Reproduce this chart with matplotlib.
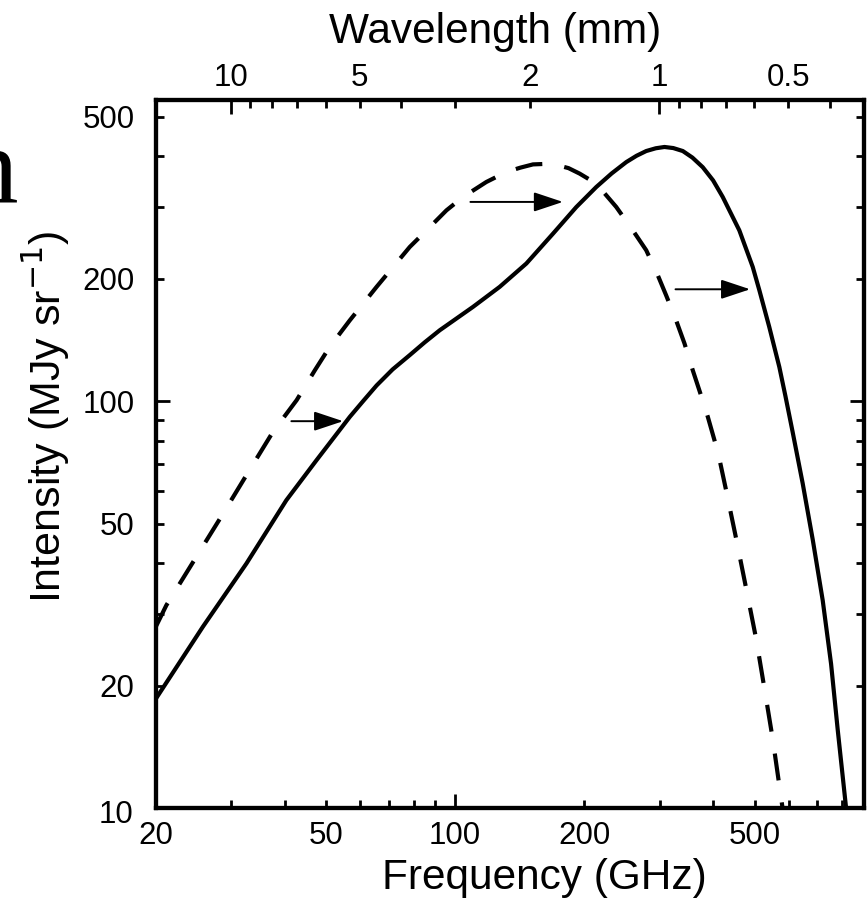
import numpy as np
import matplotlib
matplotlib.use("Agg")
import matplotlib.pyplot as plt
from matplotlib.ticker import FixedLocator, FuncFormatter
import matplotlib.transforms as mtransforms

plt.rcParams['font.family'] = ['Liberation Sans', 'DejaVu Sans']
plt.rcParams['lines.scale_dashes'] = False

# ---- data ----
solid_freq = [20, 25.8, 32.6, 40.4, 47.5, 56.8, 61, 65.6, 71.5, 78.4, 85, 92.1,
              110.1, 127.1, 146.7, 169.2, 191.8, 213.5, 232, 250.9, 265, 279.3,
              294, 308.1, 323, 340, 358, 378.4, 400, 421.3, 460.6, 495, 513, 541,
              571, 590, 613.4, 647.4, 683.5, 720.9, 754.1, 781.3, 817.4]
solid_int = [18.5, 27.9, 39.9, 57.1, 71.6, 91.5, 100, 109.3, 119.7, 129.8, 139.6, 149.4,
             170.5, 191, 218, 258, 300, 336, 363, 387, 401, 412,
             418.5, 421.6, 419, 412, 397, 376, 349, 317.7, 263, 213.8, 187.3, 152.2,
             121.4, 103, 84, 62.8, 45.6, 32.4, 22.6, 15.6, 10.0]

dash_freq = [20, 21.2, 24.5, 28.3, 32.6, 37.6, 42.7, 47.1, 51.0, 56.8, 65.6,
             71.7, 78.4, 85.8, 95.5, 104.4, 118.3, 131.7, 142, 152, 162, 172.2,
             184, 195.3, 213.5, 237.7, 259.9, 279.3, 297.2, 310.9, 328, 343.1,
             358.6, 375.3, 388.9, 403, 414, 429, 452.7, 477.7, 504, 527, 551, 581]
dash_int = [27.8, 31.5, 40.3, 51.5, 65.8, 84.1, 100.6, 119.2, 136, 158, 191,
            213.8, 239.4, 263, 294.6, 317.7, 345.8, 365.9, 375, 382, 383, 381,
            374, 362.6, 342.7, 300.3, 263, 235, 204, 182, 158, 138.6,
            119.2, 103, 91.5, 80.2, 72, 60.4, 46.0, 34.7, 26.1, 19.7, 14.8, 10.0]

# arrows: (start freq, end freq, intensity)
arrow_start = [41.5, 108.6, 326.9]
arrow_end = [54.8, 178.5, 488]
arrow_int = [89.3, 308.9, 188.4]

x_ticks_major = [100]
x_ticks_minor = [20, 30, 40, 50, 60, 70, 80, 90, 200, 300, 400, 500, 600, 700, 800]
x_labels_minor = [20, 50, 200, 500]
y_ticks_major = [10, 100]
y_ticks_minor = [20, 30, 40, 50, 60, 70, 80, 90, 200, 300, 400, 500]
y_labels_minor = [20, 50, 200, 500]
wl_major = [10, 1]
wl_minor = [9, 8, 7, 6, 5, 4, 3, 2, 0.9, 0.8, 0.7, 0.6, 0.5, 0.4]
wl_labels_minor = [5, 2, 0.5]
C_MM_GHZ = 299.792458

W, H = 868, 902
fig = plt.figure(figsize=(W / 100, H / 100), dpi=100)
L, R, B, T = 155.5, 864, 808, 100
ax = fig.add_axes([L / W, 1 - B / H, (R - L) / W, (B - T) / H])

ax.plot(solid_freq, solid_int, color='black', lw=3.0, solid_joinstyle='round')
ax.plot(dash_freq, dash_int, color='black', lw=3.0, linestyle=(0, (19.5, 16)),
        dash_capstyle='butt', dash_joinstyle='round')

for xs, xe, yv in zip(arrow_start, arrow_end, arrow_int):
    ax.annotate('', xy=(xe, yv), xytext=(xs, yv),
                arrowprops=dict(arrowstyle='-|>,head_length=1.8,head_width=0.6',
                                lw=1.4, color='black', shrinkA=0, shrinkB=0))

ax.set_xscale('log')
ax.set_yscale('log')
ax.set_xlim(20, 900)
ax.set_ylim(10, 550)

for sp in ax.spines.values():
    sp.set_linewidth(3)

FS = 22.5
ax.xaxis.set_major_locator(FixedLocator(x_ticks_major))
ax.xaxis.set_minor_locator(FixedLocator(x_ticks_minor))
ax.xaxis.set_major_formatter(FuncFormatter(lambda v, p: '%g' % v))
ax.xaxis.set_minor_formatter(FuncFormatter(
    lambda v, p: ('%g' % v) if any(abs(v - t) < 1e-6 for t in x_labels_minor) else ''))
ax.yaxis.set_major_locator(FixedLocator(y_ticks_major))
ax.yaxis.set_minor_locator(FixedLocator(y_ticks_minor))
ax.yaxis.set_major_formatter(FuncFormatter(lambda v, p: '' if abs(v - 10) < 1e-6 else '%g' % v))
ax.yaxis.set_minor_formatter(FuncFormatter(
    lambda v, p: ('%g' % v) if any(abs(v - t) < 1e-6 for t in y_labels_minor) else ''))

ax.tick_params(which='both', direction='in', width=2, top=False, right=True,
               labelsize=FS)
ax.tick_params(which='major', length=10)
ax.tick_params(which='minor', length=6)
ax.tick_params(axis='x', which='both', pad=9)
ax.tick_params(axis='y', which='both', pad=15)

# lowered "10" label
ax.text(-0.0315, 10, '10', transform=mtransforms.blended_transform_factory(ax.transAxes, ax.transData)
        + mtransforms.ScaledTranslation(0, -7 / 100, fig.dpi_scale_trans),
        ha='right', va='center', fontsize=FS)

# top wavelength axis
ax2 = ax.twiny()
ax2.set_xscale('log')
ax2.set_xlim(ax.get_xlim())
ax2.xaxis.set_major_locator(FixedLocator([C_MM_GHZ / w for w in wl_major]))
ax2.xaxis.set_minor_locator(FixedLocator([C_MM_GHZ / w for w in wl_minor]))
ax2.xaxis.set_major_formatter(FuncFormatter(lambda v, p: '%g' % round(C_MM_GHZ / v, 3)))
ax2.xaxis.set_minor_formatter(FuncFormatter(
    lambda v, p: ('%g' % round(C_MM_GHZ / v, 3))
    if any(abs(C_MM_GHZ / v - t) < 1e-3 for t in wl_labels_minor) else ''))
ax2.tick_params(which='both', direction='in', width=2, labelsize=FS, pad=5)
ax2.tick_params(which='major', length=10)
ax2.tick_params(which='minor', length=6)
for sp in ax2.spines.values():
    sp.set_linewidth(3)

# axis titles
fig.text(544 / W, 1 - 889 / H, 'Frequency (GHz)', ha='center', va='baseline', fontsize=30.5)
fig.text(495 / W, 1 - 43 / H, 'Wavelength (mm)', ha='center', va='baseline', fontsize=30.5)
fig.text(46 / W, 1 - 417 / H, 'Intensity (MJy sr$^{-1}$)', ha='center', va='center',
         rotation=90, fontsize=31)

# fragment of a large serif letter cut off at the left edge
fig.text(18 / W, 1 - 203 / H, 'n', ha='right', va='baseline', fontsize=80,
         family=['Liberation Serif', 'DejaVu Serif'])

fig.savefig('out.png', dpi=100)
